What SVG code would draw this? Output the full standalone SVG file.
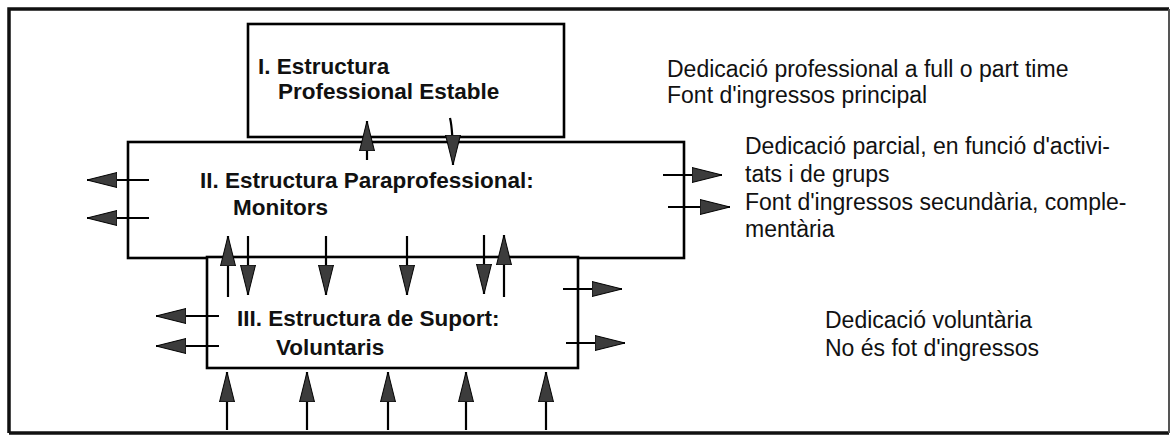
<svg xmlns="http://www.w3.org/2000/svg" width="1172" height="437" viewBox="0 0 1172 437">
<defs>
<marker id="ah" markerUnits="userSpaceOnUse" markerWidth="32" markerHeight="17" refX="30" refY="8.5" orient="auto">
<path d="M0,1 L30,8.5 L0,16 z" fill="#3c3c3c" stroke="#000" stroke-width="1"/>
</marker>
</defs>
<style>
.frame{fill:none;stroke:#111;stroke-width:3.5}
.box{fill:#fff;stroke:#000;stroke-width:2.6}
.bt{font-family:"Liberation Sans",Arial,sans-serif;font-weight:bold;font-size:22.5px;fill:#111}
.nt{font-family:"Liberation Sans",Arial,sans-serif;font-size:23px;fill:#111}
.ar{stroke:#000;stroke-width:2.2;fill:none;marker-end:url(#ah)}
</style>
<rect width="1172" height="437" fill="#fff"/>
<g id="frame">
<path class="frame" d="M9,433 L9,9 L1169,9"/>
<path class="frame" d="M9,433 L1169,433"/>
<path d="M1169,9 L1169,433" stroke="#555" stroke-width="2" fill="none"/>
</g>
<g id="node-II">
<rect class="box" x="128" y="142" width="556" height="116"/>
<text class="bt" x="200" y="188">II. Estructura Paraprofessional:</text>
<text class="bt" x="233" y="215">Monitors</text>
</g>
<g id="node-I">
<rect class="box" x="248" y="24" width="316" height="113"/>
<text class="bt" x="258" y="74">I. Estructura</text>
<text class="bt" x="278" y="99">Professional Estable</text>
</g>
<g id="node-III">
<rect class="box" x="207" y="257" width="371" height="111"/>
<text class="bt" x="237" y="326">III. Estructura de Suport:</text>
<text class="bt" x="276" y="355">Voluntaris</text>
</g>
<g id="notes">
<text class="nt" x="667" y="77">Dedicació professional a full o part time</text>
<text class="nt" x="667" y="103">Font d'ingressos principal</text>
<text class="nt" x="745" y="154">Dedicació parcial, en funció d'activi-</text>
<text class="nt" x="745" y="182">tats i de grups</text>
<text class="nt" x="745" y="210">Font d'ingressos secundària, comple-</text>
<text class="nt" x="745" y="237">mentària</text>
<text class="nt" x="825" y="328">Dedicació voluntària</text>
<text class="nt" x="825" y="356">No és fot d'ingressos</text>
</g>
<g id="connectors">
<path class="ar" d="M367,160 L367,121"/>
<path class="ar" d="M450,118 Q453,130 453,165"/>
<path class="ar" d="M149,180 L87,180"/>
<path class="ar" d="M149,218 L87,218"/>
<path class="ar" d="M663,175 L722,175"/>
<path class="ar" d="M668,207 L730,207"/>
<path class="ar" d="M228,297 L228,236"/>
<path class="ar" d="M248,236 L248,295"/>
<path class="ar" d="M326,236 L326,295"/>
<path class="ar" d="M407,236 L407,295"/>
<path class="ar" d="M484,235 L484,294"/>
<path class="ar" d="M504,297 L504,235"/>
<path class="ar" d="M219,316 L156,316"/>
<path class="ar" d="M219,346 L156,346"/>
<path class="ar" d="M563,289 L622,289"/>
<path class="ar" d="M566,343 L625,343"/>
<path class="ar" d="M227,430 L227,372"/>
<path class="ar" d="M307,430 L307,372"/>
<path class="ar" d="M388,430 L388,372"/>
<path class="ar" d="M466,430 L466,372"/>
<path class="ar" d="M546,430 L546,372"/>
</g>
</svg>
